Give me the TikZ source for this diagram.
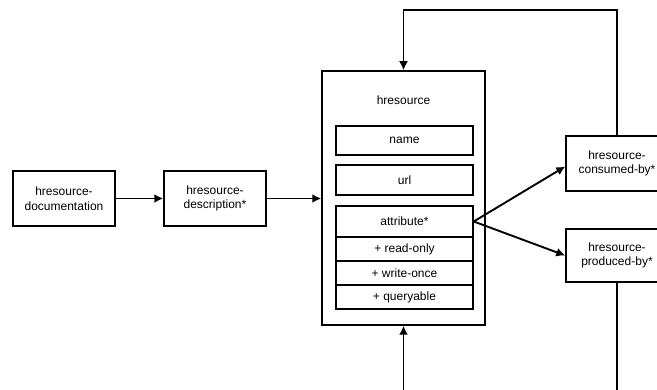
\documentclass[tikz,border=0pt]{standalone}
\usepackage{fontspec}
\setmainfont{Liberation Sans}
\usetikzlibrary{arrows.meta,calc}
\begin{document}
\begin{tikzpicture}[x=1pt,y=-1pt,
  box/.style={draw, line width=1.5pt, inner sep=0pt, align=center, font=\fontsize{12}{14.5}\selectfont},
  conn/.style={line width=1.9pt},
  arr/.style={conn, -{Latex[length=9pt,width=9pt]}}]
\clip (0,0) rectangle (657,390);
\fill[white] (0,0) rectangle (657,390);
\node[box, minimum width=102pt, minimum height=55pt] (doc) at (64,198.5) {hresource-\\documentation};
\node[box, minimum width=102pt, minimum height=55pt] (desc) at (215,198.5) {hresource-\\description*};
\node[box, minimum width=163pt, minimum height=254pt] (main) at (403.5,198) {};
\node[font=\fontsize{12}{14.5}\selectfont, inner sep=0pt] (title) at (403.5,100) {hresource};
\node[box, minimum width=137pt, minimum height=29pt] (name) at (404.5,140.5) {name};
\node[box, minimum width=137pt, minimum height=30pt] (url) at (404.5,180) {url};
\node[box, minimum width=137pt, minimum height=31pt] (attr) at (404.5,221.5) {attribute*};
\node[box, minimum width=137pt, minimum height=24pt] (ro) at (404.5,249) {+ read-only};
\node[box, minimum width=137pt, minimum height=24pt] (wo) at (404.5,273) {+ write-once};
\node[box, minimum width=137pt, minimum height=24pt] (qu) at (404.5,297) {+ queryable};
\node[box, minimum width=102pt, minimum height=55pt] (cons) at (617,163.5) {hresource-\\consumed-by*};
\node[box, minimum width=102pt, minimum height=53pt] (prod) at (617,255.5) {hresource-\\produced-by*};
\coordinate (topy) at (0,10);
\coordinate (boty) at (0,400);
\draw[arr] (doc) -- (desc);
\draw[arr] (desc) -- (desc -| main.west);
\draw[arr] (attr.east) -- ($(cons.west)+(0,3)$);
\draw[arr] (attr.east) -- (prod.west);
\draw[arr] (cons.north) |- (main.north |- topy) -- (main.north);
\draw[conn] (prod.south) -- (prod.south |- boty);
\draw[arr] (main.south |- boty) -- (main.south);
\end{tikzpicture}
\end{document}
